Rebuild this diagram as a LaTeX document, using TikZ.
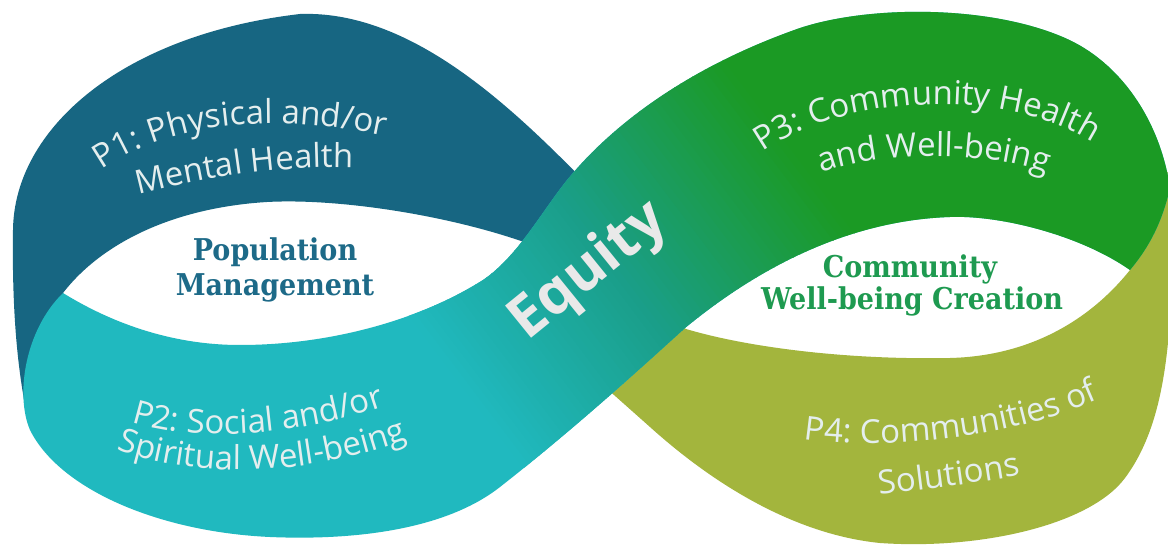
\documentclass[tikz,border=0pt]{standalone}
\usepackage{fontspec}
\usetikzlibrary{decorations.text}
\newfontfamily\osfont{Open Sans}
\newfontfamily\slabfont[FakeStretch=0.9]{DejaVu Serif}
\definecolor{pblue}{HTML}{176682}
\definecolor{cteal}{HTML}{20B9BF}
\definecolor{cmid}{HTML}{1A9E88}
\definecolor{cgreen}{HTML}{1B9A24}
\definecolor{colive}{HTML}{A3B53D}
\definecolor{lbl}{HTML}{E4EEEE}
\definecolor{eqtxt}{HTML}{E9E9E9}
\definecolor{popc}{HTML}{1D6A88}
\definecolor{comc}{HTML}{1E9A50}
\newcommand\plfont{\osfont\fontsize{33}{40}\selectfont}
\tikzset{
  curvelabel/.style={decorate, decoration={text along path, text align=center, text color=lbl, text={|\plfont|#1}}},
  eyelbl/.style={font=\slabfont\bfseries\fontsize{30}{34}\selectfont, inner sep=0pt, anchor=base},
}
\begin{document}
\begin{tikzpicture}[x=1pt,y=-1pt]
\useasboundingbox (0,0) rectangle (1168,548);
\fill[white] (0,0) rectangle (1168,548);
\begin{scope}
\clip (0,0) rectangle (1168,548);
% P1 band (behind)
\fill[pblue] (26,410) .. controls (16,360) and (12,300) .. (13,230)
  .. controls (14,130) and (120,35) .. (300,14)
  .. controls (410,10) and (510,105) .. (588,185) -- (605,205) -- (560,262) -- (535,246)
  .. controls (455,216) and (340,198) .. (267,202)
  .. controls (170,208) and (100,245) .. (63,293) -- (70,330) -- (40,420) -- cycle;
% P4 band (behind)
\fill[colive] (686,329) .. controls (750,348) and (850,360) .. (950,358)
  .. controls (1030,356) and (1090,320) .. (1130,270) -- (1118,252) -- (1155,165) -- (1172,175) -- (1172,190)
  .. controls (1174,330) and (1168,420) .. (1125,478)
  .. controls (1090,525) and (980,550) .. (880,543)
  .. controls (800,535) and (720,490) .. (650,427) -- (605,387) -- (640,300) -- cycle;
% main ribbon P2 - Equity - P3
\path[save path=\ribbon] (63,293) .. controls (110,322) and (170,345) .. (240,345)
  .. controls (330,345) and (420,320) .. (483,280)
  .. controls (520,255) and (545,205) .. (573,173)
  .. controls (610,130) and (680,70) .. (800,28)
  .. controls (870,5) and (990,5) .. (1065,38)
  .. controls (1120,62) and (1160,120) .. (1170,188)
  .. controls (1162,222) and (1150,246) .. (1130,270)
  .. controls (1080,235) and (1000,215) .. (950,217)
  .. controls (860,220) and (770,258) .. (685,328)
  .. controls (630,378) and (570,432) .. (500,487)
  .. controls (440,534) and (340,540) .. (270,537)
  .. controls (160,532) and (60,490) .. (30,430)
  .. controls (15,395) and (25,330) .. (63,293) -- cycle;
\begin{scope}
\clip[use path=\ribbon];
\fill[cteal] (0,0) rectangle (1168,548);
\begin{scope}[rotate around={37:(620,280)}]
  \foreach \i in {0,...,29} {
    \pgfmathsetmacro\xa{430+\i*6.5}
    \pgfmathsetmacro\pc{(\i+0.5)/30*100}
    \fill[cmid!\pc!cteal] (\xa,-400) rectangle (\xa+7.2,960);
  }
  \foreach \i in {0,...,29} {
    \pgfmathsetmacro\xa{625+\i*7}
    \pgfmathsetmacro\pc{(\i+0.5)/30*100}
    \fill[cgreen!\pc!cmid] (\xa,-400) rectangle (\xa+7.7,960);
  }
  \fill[cgreen] (835,-400) rectangle (1600,960);
\end{scope}
\end{scope}
\end{scope}
% curved labels
\path[curvelabel={P1: Physical and/or}] (88,180) .. controls (170,112) and (300,115) .. (402,140);
\path[curvelabel={Mental Health}] (126,198) .. controls (200,178) and (280,164) .. (366,168);
\path[curvelabel={P2: Social and/or}] (120,418) .. controls (190,445) and (300,437) .. (396,402);
\path[curvelabel={Spiritual Well-being}] (108,446) .. controls (190,480) and (310,478) .. (416,436);
\path[curvelabel={P3: Community Health}] (750,162) .. controls (830,92) and (1018,82) .. (1106,152);
\path[curvelabel={and Well-being}] (810,178) .. controls (865,150) and (995,148) .. (1058,178);
\path[curvelabel={P4: Communities of}] (792,437) .. controls (862,452) and (1012,442) .. (1110,394);
\path[curvelabel={Solutions}] (868,496) .. controls (920,490) and (980,483) .. (1032,473);
% Equity
\node[font=\osfont\bfseries\fontsize{58}{64}\selectfont, text=eqtxt, rotate=39, inner sep=0pt] (equity) at (589,272) {Equity};
% eye labels
\node[eyelbl, text=popc] (pop1) at (275,261) {Population};
\node[eyelbl, text=popc] (pop2) at (275,295) {Management};
\node[eyelbl, text=comc] (com1) at (910,277) {Community};
\node[eyelbl, text=comc] (com2) at (912,309) {Well-being Creation};
\end{tikzpicture}
\end{document}
